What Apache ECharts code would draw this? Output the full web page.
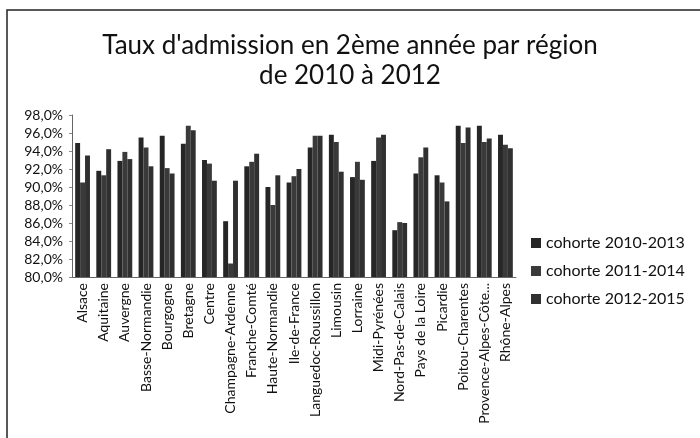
<!DOCTYPE html>
<html>
<head>
<meta charset="utf-8">
<script src="https://cdn.jsdelivr.net/npm/echarts@6/dist/echarts.min.js"></script>
<style>
  html, body { margin: 0; padding: 0; background: #fff; }
  #main { width: 700px; height: 438px; }
</style>
</head>
<body>
<div id="main"></div>
<script>
var regions = ['Alsace', 'Aquitaine', 'Auvergne', 'Basse-Normandie', 'Bourgogne', 'Bretagne',
    'Centre', 'Champagne-Ardenne', 'Franche-Comté', 'Haute-Normandie', 'Ile-de-France',
    'Languedoc-Roussillon', 'Limousin', 'Lorraine', 'Midi-Pyrénées', 'Nord-Pas-de-Calais',
    'Pays de la Loire', 'Picardie', 'Poitou-Charentes', "Provence-Alpes-Côte d'Azur", 'Rhône-Alpes'];

var cohorte2010 = [94.9, 91.8, 92.9, 95.5, 95.7, 94.8, 93.0, 86.2, 92.3, 90.0, 90.5,
    94.4, 95.8, 91.1, 92.9, 85.2, 91.5, 91.3, 96.8, 96.8, 95.8];
var cohorte2011 = [90.5, 91.3, 93.9, 94.4, 92.1, 96.8, 92.6, 81.5, 92.8, 88.0, 91.2,
    95.7, 95.0, 92.8, 95.5, 86.1, 93.3, 90.5, 94.9, 95.0, 94.7];
var cohorte2012 = [93.5, 94.2, 93.1, 92.3, 91.5, 96.3, 90.7, 90.7, 93.7, 91.3, 92.0,
    95.7, 91.7, 90.8, 95.8, 86.0, 94.4, 88.4, 96.6, 95.4, 94.3];

var seriesNames = ['cohorte 2010-2013', 'cohorte 2011-2014', 'cohorte 2012-2015'];
var yTicks = { min: 80, max: 98, interval: 2 };

var chartDom = document.getElementById('main');
var myChart = echarts.init(chartDom);
var font = 'Lato, "Open Sans", sans-serif';

function fmtPct(v) {
    return v.toFixed(1).replace('.', ',') + '%';
}

var option = {
    backgroundColor: '#fff',
    animation: false,
    textStyle: { fontFamily: font, color: '#111' },
    title: {
        text: "Taux d'admission en 2ème année par région\nde 2010 à 2012",
        left: 'center',
        top: 26,
        textStyle: { fontFamily: font, fontSize: 26, fontWeight: 'normal', color: '#111', lineHeight: 30 }
    },
    legend: {
        orient: 'vertical',
        left: 526,
        top: 230,
        itemGap: 12,
        itemWidth: 10,
        itemHeight: 10,
        icon: 'rect',
        textStyle: { fontFamily: font, fontSize: 16, color: '#111' },
        data: seriesNames
    },
    grid: {
        left: 72,
        right: 184,
        top: 115,
        bottom: 161
    },
    xAxis: {
        type: 'category',
        data: regions,
        axisLine: { lineStyle: { color: '#666' } },
        axisTick: { show: false },
        axisLabel: {
            rotate: 90,
            interval: 0,
            fontSize: 14,
            color: '#111',
            margin: 6,
            width: 146,
            overflow: 'truncate',
            ellipsis: '...'
        }
    },
    yAxis: {
        type: 'value',
        min: yTicks.min,
        max: yTicks.max,
        interval: yTicks.interval,
        axisLine: { show: true, lineStyle: { color: '#666' } },
        axisTick: { show: true, length: 3, lineStyle: { color: '#888' } },
        splitLine: { show: false },
        axisLabel: {
            fontSize: 14,
            color: '#111',
            margin: 9,
            formatter: fmtPct
        }
    },
    series: [
        {
            name: seriesNames[0],
            type: 'bar',
            data: cohorte2010,
            barGap: '0%',
            barCategoryGap: '30%',
            itemStyle: { color: '#262626' }
        },
        {
            name: seriesNames[1],
            type: 'bar',
            data: cohorte2011,
            itemStyle: { color: '#3a3a3a' }
        },
        {
            name: seriesNames[2],
            type: 'bar',
            data: cohorte2012,
            itemStyle: { color: '#303030' }
        }
    ],
    graphic: [
        {
            type: 'rect',
            shape: { x: 7, y: 10, width: 700, height: 440 },
            style: { fill: 'none', stroke: '#222', lineWidth: 1.5 },
            silent: true
        }
    ]
};

option && myChart.setOption(option);
</script>
</body>
</html>
